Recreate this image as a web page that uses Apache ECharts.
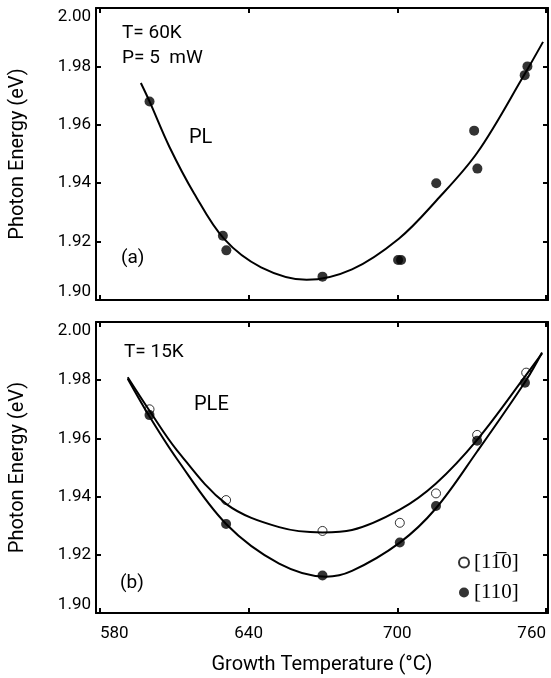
<!DOCTYPE html>
<html>
<head>
<meta charset="utf-8">
<script src="https://cdn.jsdelivr.net/npm/echarts@6/dist/echarts.min.js"></script>
<style>
  html, body { margin: 0; background: #fff; }
  #chart { width: 551px; height: 678px; }
</style>
</head>
<body>
<div id="chart"></div>
<script>
// (a) PL at T = 60K : measured points and fitted curve
var plT = [600, 629.6, 631, 669.8, 700.3, 701.5, 715.7, 731, 732.3, 751.4, 752.5]
var plE = [1.968, 1.922, 1.917, 1.908, 1.9137, 1.9137, 1.940, 1.958, 1.945, 1.977, 1.980]
var plFitT = [596.5, 600, 608, 618, 630, 645, 663.4, 681.7, 700.6, 715.7, 732.3, 751.4, 758.8]
var plFitE = [1.9743, 1.968, 1.9525, 1.9365, 1.921, 1.9112, 1.9069, 1.9105, 1.921, 1.934, 1.9505, 1.9774, 1.9884]

// (b) PLE at T = 15K : [1-10] open circles, [110] filled circles
var pleOpenT = [600, 630.9, 669.8, 701, 715.6, 732.2, 752]
var pleOpenE = [1.970, 1.9388, 1.9282, 1.931, 1.9411, 1.9612, 1.9826]
var pleFullT = [600, 630.9, 669.8, 701, 715.6, 732.2, 751.5]
var pleFullE = [1.968, 1.9306, 1.9129, 1.9242, 1.9368, 1.9592, 1.9791]
var openFitT = [591.2, 600, 611, 630.9, 652.3, 669.8, 681.7, 701, 715.6, 732.2, 752, 758.4]
var openFitE = [1.981, 1.9695, 1.956, 1.9375, 1.9295, 1.9277, 1.9285, 1.9355, 1.9445, 1.9595, 1.9818, 1.9892]
var fullFitT = [591.2, 600, 611, 630.9, 652.3, 671.2, 681.7, 701, 715.6, 732.2, 752, 758.4]
var fullFitE = [1.9805, 1.9675, 1.953, 1.9306, 1.917, 1.9125, 1.9145, 1.9242, 1.936, 1.9555, 1.980, 1.9895]

var xTicks = [580, 640, 700, 760]

var openName = '[11\u03050]'
var fullName = '[110]'

function zip (xs, ys) {
  return xs.map(function (x, i) { return [x, ys[i]] })
}

var sans = 'Roboto'
var axisLine = { show: true, onZero: false, lineStyle: { color: '#000', width: 2 } }

function xAxis (grid, pos, labels) {
  return {
    type: 'value',
    gridIndex: grid,
    position: pos,
    min: 578.4,
    max: 760.8,
    axisLine: axisLine,
    splitLine: { show: false },
    axisTick: { show: true, inside: true, length: 5, customValues: xTicks, lineStyle: { color: '#000', width: 2 } },
    axisLabel: {
      show: labels,
      customValues: xTicks,
      margin: 12,
      color: '#000',
      fontFamily: sans,
      fontSize: 17,
      alignMinLabel: 'left',
      alignMaxLabel: 'right'
    },
    name: labels ? 'Growth Temperature (\u00b0C)' : '',
    nameLocation: 'middle',
    nameGap: 42,
    nameTextStyle: { color: '#000', fontFamily: sans, fontSize: 20 }
  }
}

function yAxis (grid, pos, labels) {
  return {
    type: 'value',
    gridIndex: grid,
    position: pos,
    min: 1.9,
    max: 2.0,
    interval: 0.02,
    axisLine: axisLine,
    splitLine: { show: false },
    axisTick: { show: true, inside: true, length: 5, lineStyle: { color: '#000', width: 2 } },
    axisLabel: {
      show: labels,
      margin: 5,
      color: '#000',
      fontFamily: sans,
      fontSize: 17,
      formatter: function (v) { return v.toFixed(2) },
      verticalAlignMinLabel: 'bottom',
      verticalAlignMaxLabel: 'top'
    },
    name: labels ? 'Photon Energy (eV)' : '',
    nameLocation: 'middle',
    nameGap: 68,
    nameTextStyle: { color: '#000', fontFamily: sans, fontSize: 20 }
  }
}

function label (text, x, y, size, family) {
  return {
    type: 'text',
    x: x,
    y: y,
    style: {
      text: text,
      fill: '#000',
      fontFamily: family || sans,
      fontSize: size || 19,
      align: 'left',
      verticalAlign: 'middle'
    }
  }
}

function fit (grid, xs, ys) {
  return {
    type: 'line',
    xAxisIndex: grid * 2,
    yAxisIndex: grid * 2,
    smooth: 0.35,
    symbol: 'none',
    lineStyle: { color: '#000', width: 2 },
    data: zip(xs, ys)
  }
}

var chart = echarts.init(document.getElementById('chart'))

chart.setOption({
  backgroundColor: '#fff',
  animation: false,
  grid: [
    { left: 95, top: 8, width: 453, height: 292 },
    { left: 95, top: 322, width: 453, height: 291 }
  ],
  xAxis: [
    xAxis(0, 'bottom', false),
    xAxis(0, 'top', false),
    xAxis(1, 'bottom', true),
    xAxis(1, 'top', false)
  ],
  yAxis: [
    yAxis(0, 'left', true),
    yAxis(0, 'right', false),
    yAxis(1, 'left', true),
    yAxis(1, 'right', false)
  ],
  legend: {
    orient: 'vertical',
    left: 453,
    top: 547,
    itemWidth: 10,
    itemHeight: 10,
    itemGap: 9,
    icon: 'circle',
    data: [openName, fullName],
    textStyle: { color: '#000', fontFamily: 'Liberation Serif, DejaVu Serif', fontSize: 21 }
  },
  graphic: [
    label('T= 60K', 122, 33),
    label('P= 5  mW', 122, 58),
    label('PL', 189, 138, 20),
    label('(a)', 121, 258, 19),
    label('T= 15K', 124, 352),
    label('PLE', 194, 405, 20),
    label('(b)', 120, 583, 19)
  ],
  series: [
    fit(0, plFitT, plFitE),
    {
      type: 'scatter',
      xAxisIndex: 0,
      yAxisIndex: 0,
      symbolSize: 10,
      itemStyle: { color: '#000' },
      data: zip(plT, plE)
    },
    fit(1, openFitT, openFitE),
    fit(1, fullFitT, fullFitE),
    {
      name: openName,
      type: 'scatter',
      xAxisIndex: 2,
      yAxisIndex: 2,
      symbolSize: 9,
      itemStyle: { color: '#fff', borderColor: '#000', borderWidth: 1 },
      data: zip(pleOpenT, pleOpenE)
    },
    {
      name: fullName,
      type: 'scatter',
      xAxisIndex: 2,
      yAxisIndex: 2,
      symbolSize: 10,
      itemStyle: { color: '#000' },
      data: zip(pleFullT, pleFullE)
    }
  ]
})
</script>
</body>
</html>
